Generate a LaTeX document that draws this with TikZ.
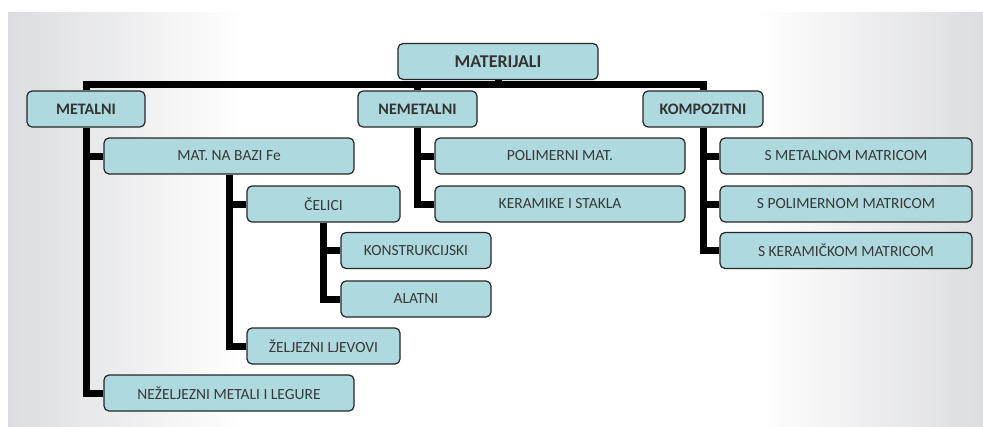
\documentclass[tikz,border=0pt]{standalone}
\usepackage{fontspec}
\setmainfont{Carlito}
\usepackage{xcolor}
\usepackage{tikz}
\usetikzlibrary{positioning, backgrounds}
\definecolor{boxfill}{HTML}{AEDADF}
\definecolor{panelgray}{HTML}{DCDDE0}
\definecolor{txtgray}{HTML}{383838}

\begin{document}
\begin{tikzpicture}[x=1pt,y=-1pt,
    box/.style={draw=black!85, line width=1.2pt, rounded corners=5pt, fill=boxfill, text=txtgray,
                minimum height=36pt, inner sep=0pt, font=\fontsize{15.5}{17}\selectfont},
    head/.style={box, text=black!80, font=\fontsize{16}{18}\selectfont\bfseries},
    conn/.style={line width=7pt, line join=miter}]
    \useasboundingbox (0,0) rectangle (983,426);
    % Top level
    \node[head, minimum width=200pt, font=\fontsize{18}{20}\selectfont\bfseries] (mat) at (498,61.5) {MATERIJALI};
    \node[head, minimum width=118pt] (met) at (86,109) {METALNI};
    \node[head, minimum width=119pt] (nemet) at (417.5,109) {NEMETALNI};
    \node[head, minimum width=120pt] (komp) at (703,109) {KOMPOZITNI};
    % Metalni
    \node[box, minimum width=250pt] (fe) at (229,156) {MAT. NA BAZI Fe};
    \node[box, minimum width=153pt] (cel) at (323.5,204) {ČELICI};
    \node[box, minimum width=150pt] (konst) at (416,250.5) {KONSTRUKCIJSKI};
    \node[box, minimum width=150pt] (alat) at (416,299) {ALATNI};
    \node[box, minimum width=153pt] (zelj) at (323.5,346) {ŽELJEZNI LJEVOVI};
    \node[box, minimum width=250pt] (nezelj) at (229,393) {NEŽELJEZNI METALI I LEGURE};
    % Nemetalni
    \node[box, minimum width=250pt] (pol) at (560,156) {POLIMERNI MAT.};
    \node[box, minimum width=250pt] (ker) at (560,204) {KERAMIKE I STAKLA};
    % Kompozitni
    \node[box, minimum width=252pt] (smet) at (846,156) {S METALNOM MATRICOM};
    \node[box, minimum width=252pt] (spol) at (846,204) {S POLIMERNOM MATRICOM};
    \node[box, minimum width=252pt] (sker) at (846,250.5) {S KERAMIČKOM MATRICOM};
    \coordinate (bar) at (498,84);

    \begin{scope}[on background layer]
        % panel
        \shade[left color=panelgray, right color=white] (8,12) rectangle (245,426);
        \fill[white] (244,12) rectangle (756,426);
        \shade[left color=white, right color=panelgray] (755,12) rectangle (983,426);
        % connectors
        \draw[conn] (mat.south) -- (bar) -| (met.north);
        \draw[conn] (bar) -| (nemet.north);
        \draw[conn] (bar) -| (komp.north);
        \draw[conn] (met.south) |- (fe.west);
        \draw[conn] (met.south) |- (nezelj.west);
        \draw[conn] (fe.south) |- (cel.west);
        \draw[conn] (fe.south) |- (zelj.west);
        \draw[conn] (cel.south) |- (konst.west);
        \draw[conn] (cel.south) |- (alat.west);
        \draw[conn] (nemet.south) |- (pol.west);
        \draw[conn] (nemet.south) |- (ker.west);
        \draw[conn] (komp.south) |- (smet.west);
        \draw[conn] (komp.south) |- (spol.west);
        \draw[conn] (komp.south) |- (sker.west);
    \end{scope}
\end{tikzpicture}
\end{document}
